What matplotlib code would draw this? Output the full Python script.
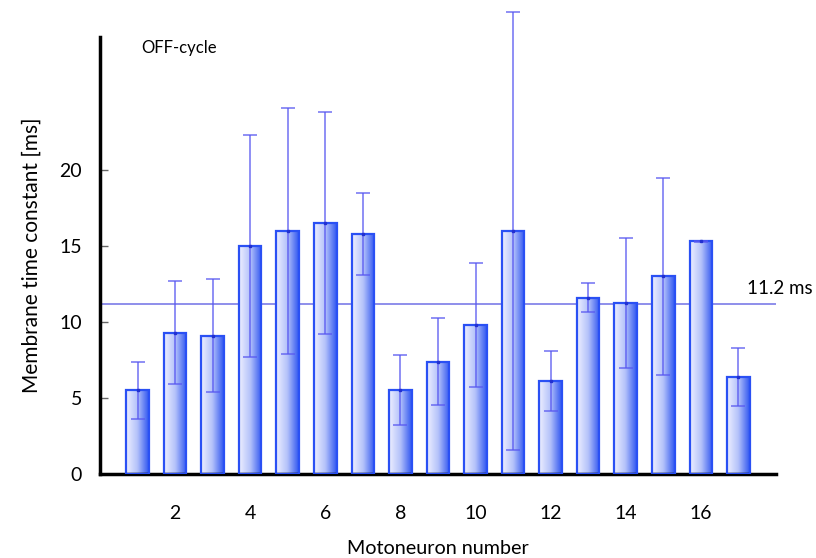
import numpy as np
import matplotlib.pyplot as plt
from matplotlib.colors import LinearSegmentedColormap

# ===== Data =====
neurons = list(range(1, 18))
tau_ms = [5.5, 9.3, 9.1, 15.0, 16.0, 16.5, 15.8, 5.5, 7.4, 9.8, 16.0, 6.1, 11.6, 11.25, 13.0, 15.3, 6.4]
tau_sd = [1.9, 3.4, 3.7, 7.3, 8.1, 7.3, 2.7, 2.3, 2.85, 4.1, 14.4, 1.97, 0.95, 4.25, 6.5, 0.05, 1.9]
mean_tau = 11.2
xtick_vals = [2, 4, 6, 8, 10, 12, 14, 16]
ytick_vals = [0, 5, 10, 15, 20]

plt.rcParams['font.family'] = ['Lato', 'DejaVu Sans']

fig = plt.figure(figsize=(8.16, 5.58), dpi=100)
ax = fig.add_axes([0.1225, 0.1505, 0.8284, 0.7832])

bar_edge = '#2a50f4'
grad = LinearSegmentedColormap.from_list('bar_grad', ['#eef0ff', '#b3c1fa', '#2f55f0'])
gradient = np.linspace(0, 1, 256).reshape(1, -1)

bars = ax.bar(neurons, tau_ms, width=0.6, color='none', edgecolor=bar_edge, linewidth=1.6, zorder=3)
for b in bars:
    x0, w, h = b.get_x(), b.get_width(), b.get_height()
    im = ax.imshow(gradient, cmap=grad, aspect='auto', extent=[x0, x0 + w, 0, h],
                   interpolation='bicubic', zorder=2)
    im.set_clip_path(b)

eb = ax.errorbar(neurons, tau_ms, yerr=tau_sd, fmt='none', ecolor='#5858f0', elinewidth=1.1,
                 capsize=5, capthick=1.1, alpha=0.85, zorder=4)
for art in eb.lines[1] + eb.lines[2]:
    art.set_clip_on(False)
ax.plot(neurons, tau_ms, ls='none', marker='s', ms=2, color='#2230d0', zorder=5)

ax.axhline(mean_tau, color='#7c7ce8', lw=1.2, zorder=1)
ax.text(17.22, mean_tau + 0.45, '11.2 ms', fontsize=13.5, ha='left', va='bottom', clip_on=False)
ax.text(1.1, 28.0, 'OFF-cycle', fontsize=12, ha='left', va='center')

ax.set_xlim(0, 18)
ax.set_ylim(0, 28.75)
ax.set_xticks(xtick_vals)
ax.set_yticks(ytick_vals)
ax.tick_params(axis='x', length=0, pad=22, labelsize=14)
ax.tick_params(axis='y', direction='in', length=6, width=1, color='#666666', pad=13, labelsize=14)

for s in ['top', 'right']:
    ax.spines[s].set_visible(False)
ax.spines['left'].set_linewidth(2.5)
ax.spines['bottom'].set_linewidth(2.5)

ax.set_xlabel('Motoneuron number', fontsize=14.2, labelpad=13)
ax.set_ylabel('Membrane time constant [ms]', fontsize=15, labelpad=13)

fig.savefig('out.png', dpi=100)
